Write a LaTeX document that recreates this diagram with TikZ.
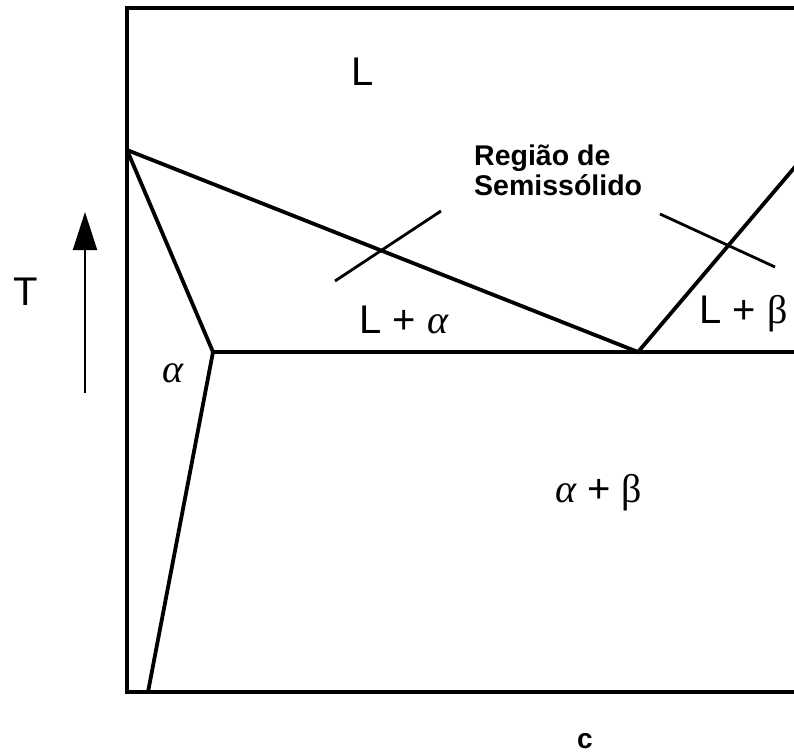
\documentclass[tikz,border=0pt]{standalone}
\usepackage{fontspec}
\setmainfont{Liberation Sans}
\newfontfamily\grk{Liberation Serif}
\usetikzlibrary{arrows.meta}
\tikzset{
  phase/.style={line width=3.8pt, line join=miter},
  pointer/.style={line width=2.8pt},
  biglabel/.style={inner sep=0pt, anchor=base west, font=\fontsize{40}{44}\selectfont},
}
\newcommand{\ga}{{\grk\itshape α}}
\newcommand{\gb}{{\grk β}}
\begin{document}
\begin{tikzpicture}[x=1pt,y=-1pt]
\useasboundingbox (0,0) rectangle (794,755);
\clip (0,0) rectangle (794,755);
\fill[white] (0,0) rectangle (794,755);
% frame
\coordinate (TL) at (127,8);
\coordinate (BL) at (127,692);
\coordinate (TR) at (800,8);
\coordinate (BR) at (800,692);
\draw[phase] (TR) -- (TL) -- (BL) -- (BR);
% phase boundaries
\coordinate (A) at (127,150);
\coordinate (S) at (213,352);
\coordinate (E) at (638,352);
\coordinate (B) at (148,692);
\coordinate (ER) at (800,352);
\coordinate (RL) at (800,161);
\draw[phase] (A) -- (E) -- (RL);
\draw[phase] (A) -- (S) -- (B);
\draw[phase] (S) -- (ER);
% labels
\node[biglabel] (lL) at (351,85) {L};
\node[biglabel] (lLa) at (359,333) {L + \ga};
\node[biglabel] (lLb) at (699,323) {L + \gb};
\node[biglabel] (la) at (162,382) {\ga};
\node[biglabel] (lab) at (555,502) {\ga{} + \gb};
\node[biglabel] (lT) at (13,305) {T};
\node[inner sep=0pt, anchor=base, font=\bfseries\fontsize{28}{30}\selectfont] (lc) at (585,748) {c};
% semisolid label
\node[inner sep=0pt, anchor=base west, align=left, font=\bfseries\fontsize{28.5}{30}\selectfont] (sem) at (474,195) {Região de\\Semissólido};
\coordinate (p1a) at (335,281);
\coordinate (p1b) at (441,211);
\coordinate (p2a) at (660,214);
\coordinate (p2b) at (775,267);
\draw[pointer] (p1a) -- (p1b);
\draw[pointer] (p2a) -- (p2b);
% temperature arrow
\coordinate (arS) at (85,393);
\coordinate (arE) at (85,212);
\draw[line width=2pt, -{Triangle[length=38pt,width=24pt]}] (arS) -- (arE);
\end{tikzpicture}
\end{document}
